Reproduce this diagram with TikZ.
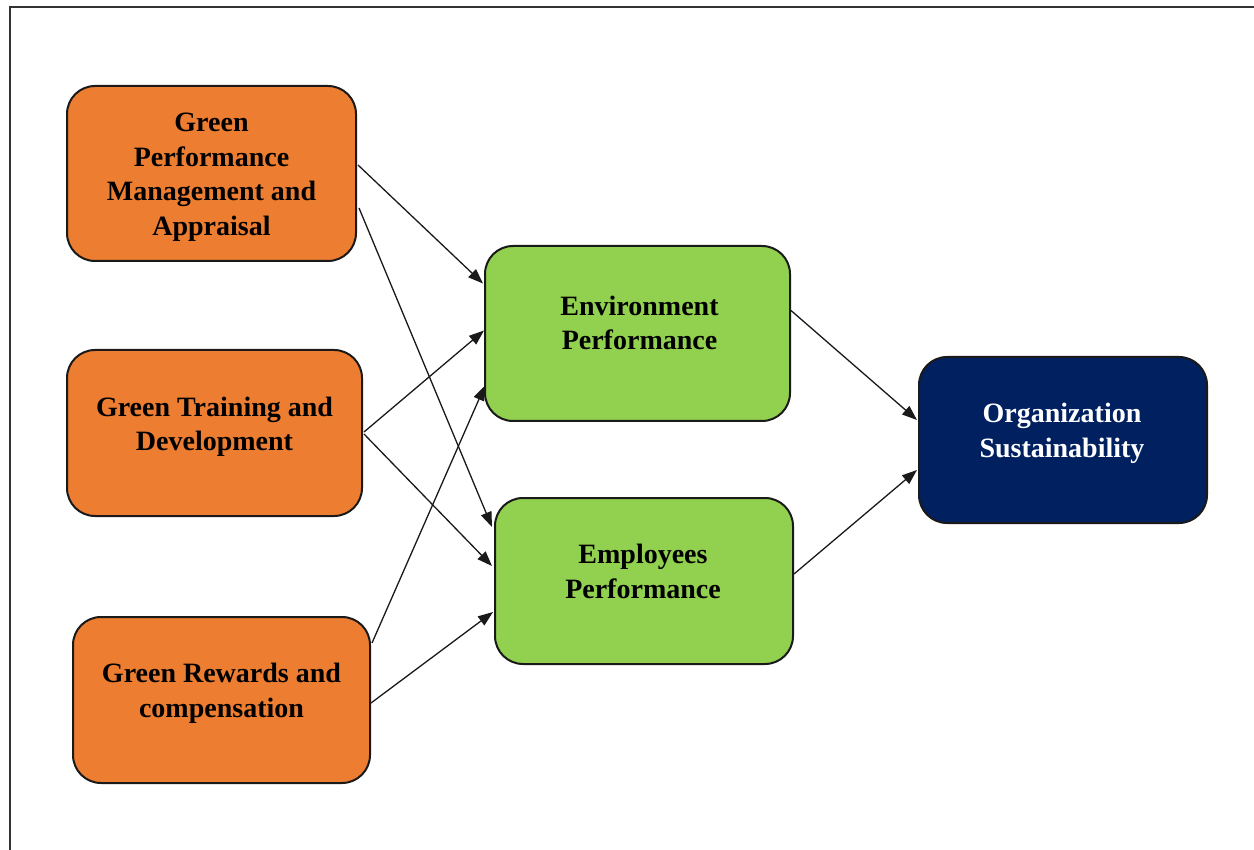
\documentclass[tikz,border=0pt]{standalone}
\usepackage{fontspec}
\setmainfont{Liberation Serif}
\usetikzlibrary{arrows.meta,calc}
\definecolor{boxorange}{HTML}{ED7D31}
\definecolor{boxgreen}{HTML}{92D050}
\definecolor{boxnavy}{HTML}{002060}
\definecolor{edge}{HTML}{1A1A1A}
\tikzset{
  boxbase/.style={draw=edge, line width=2pt, rounded corners=28pt, inner sep=0pt},
  obox/.style={boxbase, fill=boxorange},
  gbox/.style={boxbase, fill=boxgreen},
  nbox/.style={boxbase, fill=boxnavy},
  lbl/.style={align=center, font=\bfseries\fontsize{28}{34.5}\selectfont, text=black, inner sep=0pt},
  conn/.style={draw=edge, line width=1.3pt, -{Triangle[length=15pt,width=11pt]}},
  frameline/.style={draw=black!80, line width=2pt}
}
\begin{document}
\begin{tikzpicture}[x=1pt,y=-1pt]
\useasboundingbox (0,0) rectangle (1254,850);
\fill[white] (0,0) rectangle (1254,850);
\coordinate (ftr) at (1254,7);
\coordinate (ftl) at (10,7);
\coordinate (fbl) at (10,850);
\draw[frameline] (ftr) -- (ftl) -- (fbl);

% boxes
\node[obox, minimum width=289pt, minimum height=175pt] (gpma) at (211.5,173.5) {};
\node[obox, minimum width=295pt, minimum height=166pt] (gtd) at (214.5,433) {};
\node[obox, minimum width=297pt, minimum height=166pt] (grc) at (221.5,700) {};
\node[gbox, minimum width=305pt, minimum height=175pt] (ep) at (637.5,333.5) {};
\node[gbox, minimum width=298pt, minimum height=166pt] (emp) at (644,581) {};
\node[nbox, minimum width=288pt, minimum height=166pt] (os) at (1063,440) {};

% labels
\node[lbl] (tgpma) at (211.5,177) {Green\\Performance\\Management and\\Appraisal};
\node[lbl] (tgtd) at (214.5,427) {Green Training and\\Development};
\node[lbl] (tgrc) at (221.5,693.5) {Green Rewards and\\compensation};
\node[lbl] (tep) at (639.5,323) {Environment\\Performance};
\node[lbl] (temp) at (643,571.5) {Employees\\Performance};
\node[lbl, text=white] (tos) at (1062,433.5) {Organization\\Sustainability};

% connectors
\draw[conn] ($(gpma.east)+(1,-8.5)$) -- ($(ep.west)+(-1,-50)$);
\draw[conn] ($(gpma.east)+(2,34.5)$) -- ($(emp.west)+(-2,-54)$);
\draw[conn] ($(gtd.east)+(1,-1)$) -- ($(ep.west)+(0,-3)$);
\draw[conn] ($(gtd.east)+(1,1)$) -- ($(emp.west)+(-2,-15)$);
\draw[conn] ($(grc.east)+(1,-57)$) -- ($(ep.west)+(1,52)$);
\draw[conn] ($(grc.east)+(0,3)$) -- ($(emp.west)+(-1,31)$);
\draw[conn] ($(ep.east)+(0,-23)$) -- ($(os.west)+(-1,-20)$);
\draw[conn] ($(emp.east)+(0,-7)$) -- ($(os.west)+(-1,30)$);
\end{tikzpicture}
\end{document}
